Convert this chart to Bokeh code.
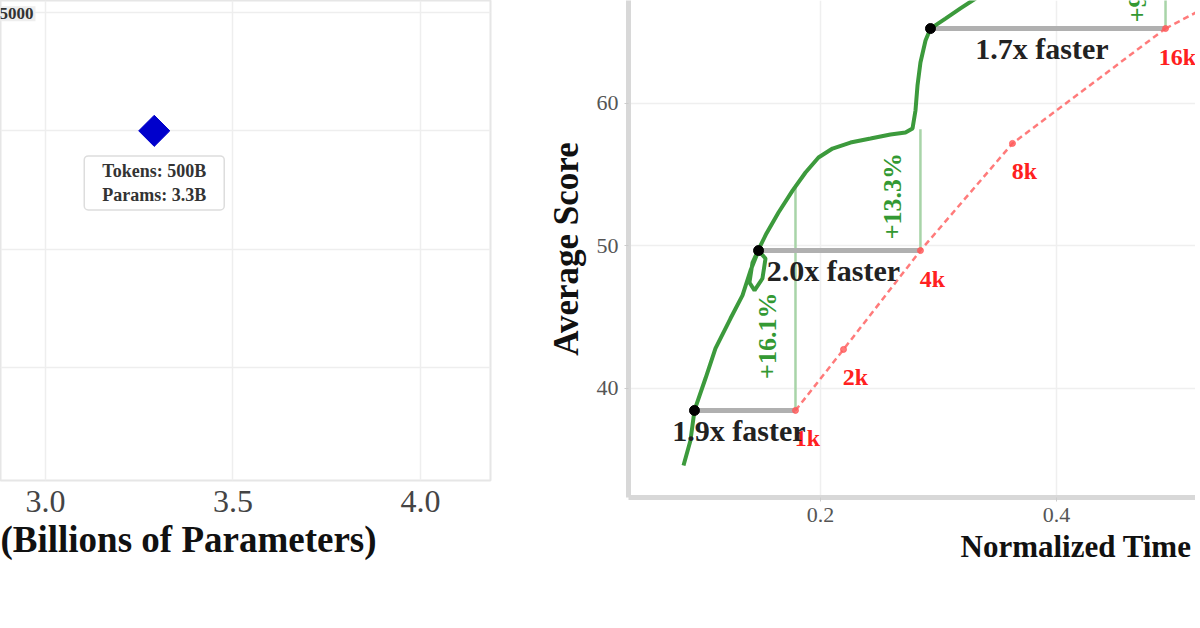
from math import pi

from bokeh.plotting import figure
from bokeh.layouts import row
from bokeh.models import Range1d, FixedTicker, Label, ColumnDataSource, Title
from bokeh.core.properties import value
from bokeh.embed import file_html
from bokeh.resources import INLINE

FONT = "Liberation Serif"

# left panel: model size vs score (only one point visible)
size_ticks = [3.0, 3.5, 4.0]
size_tick_labels = ["3.0", "3.5", "4.0"]
size_x = [3.29]
size_y = [55.0]
size_note = "Tokens: 500B\nParams: 3.3B"

# right panel: proposed method (green) vs baseline (red dashed)
ours_x = [0.0839, 0.0898, 0.0932, 0.1025, 0.1110, 0.1237, 0.1339, 0.1407, 0.1475,
          0.1534, 0.1508, 0.1441, 0.1398, 0.1424, 0.1492, 0.1542, 0.1644, 0.1763,
          0.1873, 0.1983, 0.2102, 0.2254, 0.2424, 0.2593, 0.2720, 0.2780, 0.2805,
          0.2822, 0.2847, 0.2890, 0.2932, 0.3059, 0.3186, 0.3314]
ours_y = [34.60, 36.35, 38.46, 40.70, 42.81, 44.91, 46.53, 48.28, 49.68,
          49.12, 47.72, 46.88, 47.44, 48.84, 50.04, 50.88, 52.35, 53.89,
          55.16, 56.21, 56.84, 57.26, 57.54, 57.82, 57.96, 58.25, 59.51,
          61.26, 62.88, 64.42, 65.26, 65.96, 66.67, 67.37]

base_steps = ["1k", "2k", "4k", "8k", "16k"]
base_x = [0.1788, 0.2195, 0.2847, 0.3627, 0.4924]
base_y = [38.46, 42.74, 49.68, 57.2, 65.26]

speed_y = [38.46, 49.68, 65.26]
speed_from = [0.0932, 0.1475, 0.2932]
speed_to = [0.1788, 0.2847, 0.4924]
speed_labels = ["1.9x faster", "2.0x faster", "1.7x faster"]

gain_x = [0.1788, 0.2847, 0.4924]
gain_bottom = [38.46, 49.68, 65.26]
gain_top = [54.3, 58.2, 70.0]
gain_label_y = [43.7, 53.5, 65.7]
gain_labels = ["+16.1%", "+13.3%", "+9.4%"]

# ---------------- left panel ----------------
p1 = figure(width=495, height=595, output_backend="svg", toolbar_location=None,
            x_range=Range1d(2.88, 4.1867), y_range=Range1d(40.228, 60.507),
            min_border_left=0, min_border_top=0, min_border_right=5,
            min_border_bottom=115)
p1.yaxis.visible = False
p1.xaxis.ticker = FixedTicker(ticks=size_ticks)
p1.xaxis.major_label_overrides = dict(zip(size_ticks, size_tick_labels))
p1.ygrid.ticker = FixedTicker(ticks=[45, 50, 55, 60])
p1.xaxis.axis_line_color = None
p1.xaxis.major_tick_line_color = None
p1.xaxis.minor_tick_line_color = None
p1.xaxis.major_label_text_font = FONT
p1.xaxis.major_label_text_font_size = "32px"
p1.xaxis.major_label_text_color = "#444444"
p1.xaxis.major_label_standoff = 4
p1.grid.grid_line_color = "#eeeeee"
p1.grid.grid_line_width = 1.5
p1.outline_line_color = "#e6e6e6"
p1.outline_line_width = 2

p1.scatter(size_x, size_y, marker="square", angle=pi / 4, size=22, color="#0000cc")
p1.add_layout(Label(x=size_x[0], y=size_y[0] - 2.2, text=size_note,
                    text_align="center", text_baseline="middle",
                    text_font=FONT, text_font_size="18px", text_font_style="bold",
                    text_color="#333333", background_fill_color="white",
                    border_line_color="#dddddd", border_line_width=1.5,
                    padding=(18, 5), border_radius=4))
p1.add_layout(Label(x=2.9733, y=59.95, text="5000", text_align="right",
                    text_baseline="middle", text_font=FONT, text_font_size="17px",
                    text_font_style="bold", text_color="#333333",
                    background_fill_color="#eeeeee", padding=2))
p1.add_layout(Title(text="(Billions of Parameters)", align="left", offset=0,
                    standoff=4, text_font=FONT, text_font_size="37px",
                    text_font_style="bold", text_color="#111111"), "below")

# ---------------- right panel ----------------
p2 = figure(width=700, height=612, output_backend="svg", toolbar_location=None,
            x_range=Range1d(0.03729, 0.51780), y_range=Range1d(32.35, 67.228),
            min_border_left=133, min_border_top=0, min_border_right=0,
            min_border_bottom=115)
p2.outline_line_color = None
p2.xaxis.ticker = FixedTicker(ticks=[0.2, 0.4])
p2.yaxis.ticker = FixedTicker(ticks=[40, 50, 60])
for ax in (p2.xaxis, p2.yaxis):
    ax.axis_line_color = "#d8d8d8"
    ax.axis_line_width = 5
    ax.major_tick_line_color = "#cccccc"
    ax.major_tick_in = 0
    ax.major_tick_out = 4
    ax.minor_tick_line_color = None
    ax.major_label_text_font = FONT
    ax.major_label_text_font_size = "22px"
    ax.major_label_text_color = "#555555"
    ax.major_label_standoff = 6
p2.yaxis.axis_label = "Average Score"
p2.yaxis.axis_label_text_font = FONT
p2.yaxis.axis_label_text_font_size = "35px"
p2.yaxis.axis_label_text_font_style = "bold"
p2.yaxis.axis_label_text_color = "#111111"
p2.yaxis.axis_label_standoff = 8
p2.grid.grid_line_color = "#efefef"
p2.grid.grid_line_width = 1.5

# gain (vertical) and speedup (horizontal) guides
p2.segment(gain_x, gain_bottom, gain_x, gain_top, line_color="#a8d4a8", line_width=2.5)
p2.segment(speed_from, speed_y, speed_to, speed_y, line_color="#b0b0b0", line_width=5)

base = ColumnDataSource(data=dict(x=base_x, y=base_y, step=base_steps))
p2.line("x", "y", source=base, line_color="#ff5a5a", line_width=2.5,
        line_dash="6 4", line_alpha=0.8)
p2.line([base_x[-1], 0.53], [base_y[-1], 66.9], line_color="#ff5a5a",
        line_width=2.5, line_dash="6 4", line_alpha=0.8)
p2.scatter("x", "y", source=base, size=6, color="#ff5a5a", alpha=0.8)
p2.text("x", "y", text="step", source=base, x_offset=12, y_offset=28,
        text_align="center", text_baseline="middle", text_font=value(FONT),
        text_font_size="24px", text_font_style="bold", text_color="#ff2020")

p2.line(ours_x, ours_y, line_color="#3c9a3c", line_width=4)
p2.scatter(speed_from, speed_y, size=10, color="black")

speed = ColumnDataSource(data=dict(
    x=[(a + b) / 2 for a, b in zip(speed_from, speed_to)], y=speed_y, t=speed_labels))
p2.text("x", "y", text="t", source=speed, x_offset=-6, y_offset=20,
        text_align="center", text_baseline="middle", text_font=value(FONT),
        text_font_size="30px", text_font_style="bold", text_color="#222222")

p2.text(gain_x[:2], gain_label_y[:2], text=gain_labels[:2], angle=pi / 2,
        x_offset=-28, text_align="center", text_baseline="middle",
        text_font=value(FONT), text_font_size="26px", text_font_style="bold",
        text_color="#339933")
p2.text(gain_x[2:], gain_label_y[2:], text=gain_labels[2:], angle=pi / 2,
        x_offset=-28, text_align="left", text_baseline="middle",
        text_font=value(FONT), text_font_size="26px", text_font_style="bold",
        text_color="#339933")

p2.add_layout(Title(text="Normalized Time", align="left", offset=332, standoff=4,
                    text_font=FONT, text_font_size="31px", text_font_style="bold",
                    text_color="#111111"), "below")

layout = row(p1, p2)
open("out.html", "w").write(file_html(layout, INLINE))
